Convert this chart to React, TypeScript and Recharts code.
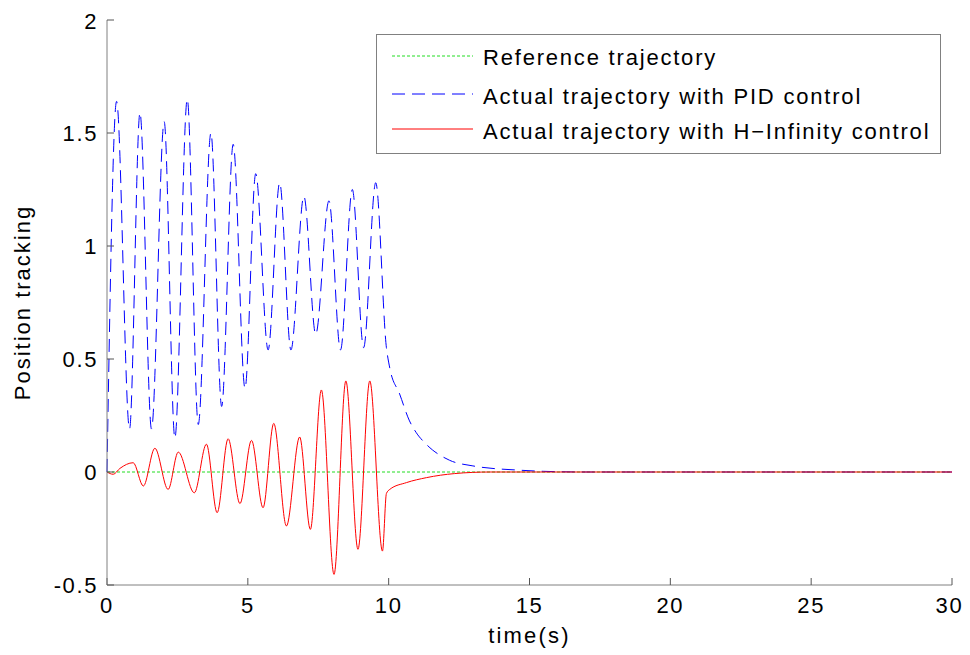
import React from "react";
import { LineChart, Line, XAxis, YAxis } from "recharts";

// time (s) and values
const referenceTime = [0, 30];
const referenceValue = [0, 0];

const pidTime = [
  0, 0.34, 0.8, 1.17, 1.58, 2.03, 2.41, 2.85, 3.24, 3.69, 4.07, 4.48, 4.9, 5.28,
  5.72, 6.13, 6.53, 6.99, 7.41, 7.88, 8.29, 8.71, 9.11, 9.54, 9.92, 10.04, 10.39,
  10.74, 10.98, 11.34, 12.16, 12.99, 14.65, 15.5, 17, 30,
];
const pidValue = [
  0, 1.64, 0.19, 1.59, 0.19, 1.55, 0.15, 1.65, 0.21, 1.5, 0.29, 1.45, 0.37, 1.32,
  0.54, 1.28, 0.54, 1.22, 0.61, 1.2, 0.54, 1.25, 0.55, 1.28, 0.55, 0.46, 0.345,
  0.226, 0.174, 0.122, 0.052, 0.027, 0.008, 0.003, 0, 0,
];

const hinfTime = [
  0, 0.22, 0.46, 0.93, 1.29, 1.7, 2.17, 2.53, 3.1, 3.53, 3.91, 4.3, 4.72, 5.13,
  5.54, 5.92, 6.37, 6.84, 7.22, 7.61, 8.06, 8.48, 8.91, 9.33, 9.78, 9.92, 10.04,
  10.63, 11.34, 12.34, 13.6, 30,
];
const hinfValue = [
  0, -0.01, 0.016, 0.041, -0.062, 0.105, -0.077, 0.088, -0.092, 0.123, -0.18, 0.147,
  -0.14, 0.14, -0.158, 0.215, -0.239, 0.155, -0.254, 0.363, -0.453, 0.403, -0.342,
  0.403, -0.35, -0.095, -0.077, -0.047, -0.025, -0.007, 0, 0,
];

const xTicks = [0, 5, 10, 15, 20, 25, 30];
const yTicks = [-0.5, 0, 0.5, 1, 1.5, 2];

const legendItems = [
  { label: "Reference trajectory", color: "#22dd22", dash: "3 2" },
  { label: "Actual trajectory with PID control", color: "#0000ff", dash: "13 7" },
  { label: "Actual trajectory with H\u2212Infinity control", color: "#ff0000", dash: undefined },
];

const zip = (ts: number[], vs: number[]) => ts.map((t, i) => ({ t, v: vs[i] }));

const referenceData = zip(referenceTime, referenceValue);
const pidData = zip(pidTime, pidValue);
const hinfData = zip(hinfTime, hinfValue);

const FONT = "'Liberation Sans', Arial, sans-serif";
const tickStyle = { fontSize: 22, fill: "#000", fontFamily: FONT, letterSpacing: 1.6 };

export default function App() {
  return (
    <div style={{ position: "relative", width: 954, height: 645 }}>
      <LineChart
        width={954}
        height={645}
        margin={{ top: 12, right: 10, bottom: 0, left: 0 }}
      >
        <XAxis
          dataKey="t"
          type="number"
          domain={[0, 30]}
          ticks={xTicks}
          height={68}
          tickSize={-7}
          tickMargin={19}
          axisLine={{ stroke: "#808080" }}
          tickLine={{ stroke: "#555" }}
          tick={tickStyle}
          allowDuplicatedCategory={false}
          label={{
            value: "time(s)",
            position: "insideBottom",
            offset: 10,
            style: { fontSize: 22, fill: "#000", fontFamily: FONT, letterSpacing: 2.2 },
          }}
        />
        <XAxis
          xAxisId="top"
          orientation="top"
          type="number"
          domain={[0, 30]}
          allowDataOverflow
          ticks={xTicks}
          height={0}
          tickSize={-7}
          axisLine={{ stroke: "#808080" }}
          tickLine={{ stroke: "#555" }}
          tickFormatter={() => ""}
        />
        <YAxis
          type="number"
          domain={[-0.5, 2]}
          ticks={yTicks}
          width={99}
          tickSize={-7}
          tickMargin={16}
          axisLine={{ stroke: "#808080" }}
          tickLine={{ stroke: "#555" }}
          tick={tickStyle}
          label={{
            value: "Position tracking",
            angle: -90,
            position: "insideLeft",
            offset: 14,
            style: {
              fontSize: 22,
              fill: "#000",
              fontFamily: FONT,
              textAnchor: "middle",
              letterSpacing: 2,
            },
          }}
        />
        <YAxis
          yAxisId="right"
          orientation="right"
          type="number"
          domain={[-0.5, 2]}
          allowDataOverflow
          ticks={yTicks}
          width={0}
          tickSize={-7}
          axisLine={{ stroke: "#808080" }}
          tickLine={{ stroke: "#555" }}
          tickFormatter={() => ""}
        />
        <Line
          data={referenceData}
          dataKey="v"
          type="linear"
          stroke="#22dd22"
          strokeWidth={1}
          strokeDasharray="3 2"
          dot={false}
          isAnimationActive={false}
        />
        <Line
          data={pidData}
          dataKey="v"
          type="monotone"
          stroke="#0000ff"
          strokeWidth={1}
          strokeDasharray="13 7"
          dot={false}
          isAnimationActive={false}
        />
        <Line
          data={hinfData}
          dataKey="v"
          type="monotone"
          stroke="#ff0000"
          strokeWidth={1}
          dot={false}
          isAnimationActive={false}
        />
      </LineChart>

      {/* legend box, drawn over the plot like the original */}
      <div
        style={{
          position: "absolute",
          left: 368,
          top: 26,
          width: 565,
          height: 120,
          boxSizing: "border-box",
          border: "1px solid #808080",
          background: "#fff",
        }}
      >
        <svg width={563} height={118}>
          {legendItems.map((item, i) => {
            const lineY = [21, 59, 94][i];
            const baseY = [30, 69, 104][i];
            return (
              <g key={item.label}>
                <line
                  x1={15}
                  x2={96}
                  y1={lineY}
                  y2={lineY}
                  stroke={item.color}
                  strokeWidth={1}
                  strokeDasharray={item.dash}
                />
                <text
                  x={106}
                  y={baseY}
                  fontSize={22}
                  fontFamily={FONT}
                  fill="#000"
                  style={{ letterSpacing: 1.8 }}
                >
                  {item.label}
                </text>
              </g>
            );
          })}
        </svg>
      </div>
    </div>
  );
}
